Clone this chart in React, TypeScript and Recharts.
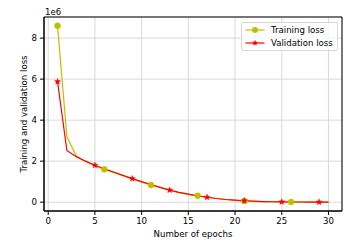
import React from 'react';
import {
  LineChart, Line, XAxis, YAxis, CartesianGrid, Legend, ReferenceArea,
} from 'recharts';

const epochs = Array.from({ length: 30 }, (_, i) => i + 1);
const trainingLoss = [
  8.6, 3.2, 2.25, 1.98, 1.78, 1.6, 1.44, 1.29, 1.13, 0.98,
  0.84, 0.71, 0.58, 0.47, 0.38, 0.31, 0.24, 0.18, 0.13, 0.09,
  0.06, 0.04, 0.03, 0.02, 0.012, 0.01, 0.008, 0.006, 0.005, 0.004,
];
const validationLoss = [
  5.88, 2.52, 2.22, 2.0, 1.8, 1.63, 1.47, 1.31, 1.15, 1.0,
  0.86, 0.72, 0.59, 0.48, 0.39, 0.31, 0.24, 0.18, 0.13, 0.1,
  0.07, 0.05, 0.03, 0.02, 0.015, 0.01, 0.008, 0.006, 0.005, 0.004,
];
const xTicks = [0, 5, 10, 15, 20, 25, 30];
const yTicks = [0, 2e6, 4e6, 6e6, 8e6];
const SCALE = 1e6;

const data = epochs.map((e, i) => ({
  epoch: e,
  train: trainingLoss[i] * SCALE,
  val: validationLoss[i] * SCALE,
}));

const TRAIN_COLOR = '#bfbf00';
const VAL_COLOR = '#ff0000';
const FONT = '"DejaVu Sans", sans-serif';
const FS = 8.6;

function starPoints(cx: number, cy: number, ro: number, ri: number) {
  const pts: string[] = [];
  for (let k = 0; k < 10; k++) {
    const r = k % 2 === 0 ? ro : ri;
    const a = -Math.PI / 2 + (k * Math.PI) / 5;
    pts.push(`${cx + r * Math.cos(a)},${cy + r * Math.sin(a)}`);
  }
  return pts.join(' ');
}

const TrainDot = (props: any) => {
  const { cx, cy, index } = props;
  if (index % 5 !== 0) return <g key={`t${index}`} />;
  return <circle key={`t${index}`} cx={cx} cy={cy} r={3} fill={TRAIN_COLOR} stroke={TRAIN_COLOR} strokeWidth={0.5} />;
};

const ValDot = (props: any) => {
  const { cx, cy, index } = props;
  if (index % 4 !== 0) return <g key={`v${index}`} />;
  return <polygon key={`v${index}`} points={starPoints(cx, cy, 3.2, 1.4)} fill={VAL_COLOR} stroke={VAL_COLOR} strokeWidth={0.4} />;
};

const LegendBox = () => (
  <div
    style={{
      width: 97,
      height: 29,
      border: '1px solid #d6d6d6',
      borderRadius: 2,
      background: 'rgba(255,255,255,0.8)',
      fontFamily: FONT,
      fontSize: FS,
      color: '#000',
      position: 'relative',
      boxSizing: 'border-box',
    }}
  >
    {[
      { name: 'Training loss', color: TRAIN_COLOR, kind: 'circle', y: 7 },
      { name: 'Validation loss', color: VAL_COLOR, kind: 'star', y: 20 },
    ].map((it) => (
      <div key={it.name} style={{ position: 'absolute', left: 2, top: it.y - 6, height: 12, display: 'flex', alignItems: 'center' }}>
        <svg width={22} height={12} style={{ display: 'block' }}>
          <line x1={1.5} y1={6} x2={20.5} y2={6} stroke={it.color} strokeWidth={1.2} />
          {it.kind === 'circle' ? (
            <circle cx={11} cy={6} r={3} fill={it.color} />
          ) : (
            <polygon points={starPoints(11, 6, 3.2, 1.4)} fill={it.color} />
          )}
        </svg>
        <span style={{ marginLeft: 5, whiteSpace: 'nowrap', lineHeight: '12px' }}>{it.name}</span>
      </div>
    ))}
  </div>
);

export default function App() {
  return (
    <div style={{ position: 'absolute', left: 0, top: 0, width: 364, height: 246, background: '#fff' }}>
      <LineChart
        width={364}
        height={246}
        data={data}
        margin={{ top: 17, right: 22, left: 0, bottom: 0 }}
        style={{ fontFamily: FONT }}
      >
        <CartesianGrid stroke="#cfcfcf" strokeWidth={0.8} vertical horizontal />
        <XAxis
          dataKey="epoch"
          type="number"
          domain={[-0.45, 31.45]}
          ticks={xTicks}
          allowDataOverflow
          height={35}
          tickSize={4}
          tickMargin={3}
          stroke="#000"
          tick={{ fill: '#000', fontSize: FS, fontFamily: FONT }}
          label={{ value: 'Number of epochs', position: 'insideBottom', offset: 9, fill: '#000', fontSize: FS, fontFamily: FONT }}
        />
        <YAxis
          type="number"
          domain={[-0.43e6, 9.03e6]}
          ticks={yTicks}
          allowDataOverflow
          width={44}
          tickSize={4}
          tickMargin={3}
          stroke="#000"
          tickFormatter={(v: number) => String(Math.round(v / SCALE))}
          tick={{ fill: '#000', fontSize: FS, fontFamily: FONT }}
          label={{ value: 'Training and validation loss', angle: -90, position: 'center', dx: 1.5, fill: '#000', fontSize: FS, fontFamily: FONT }}
        />
        <ReferenceArea
          x1={-0.45}
          x2={31.45}
          y1={-0.43e6}
          y2={9.03e6}
          fill="none"
          stroke="#000"
          strokeWidth={1}
          ifOverflow="visible"
        />
        <Line
          type="linear"
          dataKey="train"
          name="Training loss"
          stroke={TRAIN_COLOR}
          strokeWidth={1.2}
          dot={TrainDot}
          activeDot={false}
          isAnimationActive={false}
        />
        <Line
          type="linear"
          dataKey="val"
          name="Validation loss"
          stroke={VAL_COLOR}
          strokeWidth={1.2}
          dot={ValDot}
          activeDot={false}
          isAnimationActive={false}
        />
        <Legend
          layout="vertical"
          align="center"
          verticalAlign="middle"
          content={() => <LegendBox />}
          wrapperStyle={{ position: 'absolute', left: 241, top: 22, width: 'auto', height: 'auto', margin: 0 }}
        />
      </LineChart>
      <div style={{ position: 'absolute', left: 45, top: 7, fontFamily: FONT, fontSize: FS, color: '#000', lineHeight: '10px' }}>1e6</div>
    </div>
  );
}
